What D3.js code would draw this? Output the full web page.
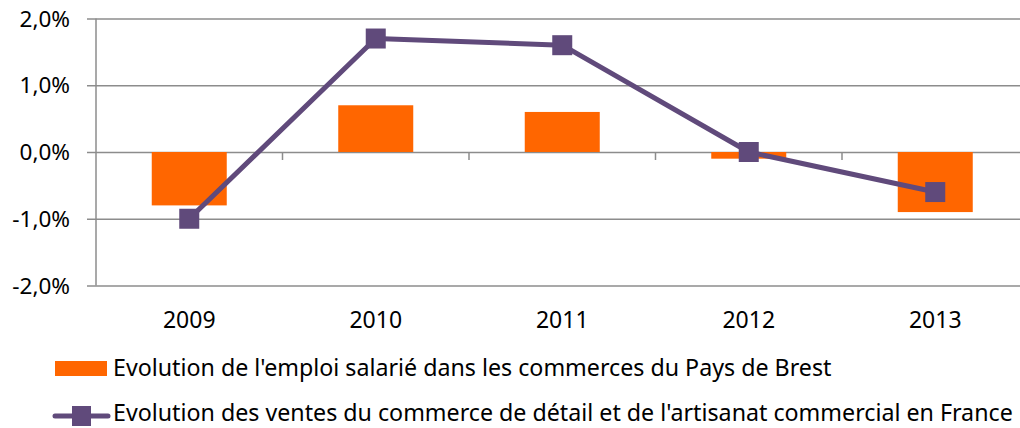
<!DOCTYPE html>
<meta charset="utf-8">
<script src="https://d3js.org/d3.v7.min.js"></script>
<style>
    body {
        margin: 0;
        background: #fff;
        font-family: "Noto Sans", "Open Sans", sans-serif;
    }
    .grid line {
        stroke: #8c8c8c;
        stroke-width: 1.5;
    }
    .grid path {
        stroke-width: 0;
    }
    text {
        fill: #000;
    }
</style>
<div id="viz_area"></div>
<script>
    var years = ["2009", "2010", "2011", "2012", "2013"]
    var emploiValues = [-0.8, 0.7, 0.6, -0.1, -0.9]
    var ventesValues = [-1.0, 1.7, 1.6, 0.0, -0.6]
    var yTicks = [-2, -1, 0, 1, 2]
    var seriesNames = [
        "Evolution de l'emploi salarié dans les commerces du Pays de Brest",
        "Evolution des ventes du commerce de détail et de l'artisanat commercial en France"
    ]

    var W = 1020, H = 428
    var orange = "#ff6600", purple = "#604a7b", gray = "#8c8c8c"

    var svg = d3.select("#viz_area").append("svg")
        .attr("width", W)
        .attr("height", H)

    var x = d3.scaleBand()
        .domain(years)
        .range([96, 1028.5])
        .padding(0)

    var y = d3.scaleLinear()
        .domain([-2, 2])
        .range([285.5, 18.5])

    // horizontal gridlines with left ticks
    svg.append("g")
        .attr("class", "grid")
        .attr("transform", "translate(96,0)")
        .call(d3.axisLeft(y).tickValues(yTicks).tickSize(-940).tickFormat(""))
    svg.append("g")
        .attr("class", "grid")
        .attr("transform", "translate(96,0)")
        .call(d3.axisLeft(y).tickValues(yTicks).tickSize(9).tickFormat(""))

    // y tick labels
    svg.selectAll(".ylab")
        .data(yTicks)
        .enter().append("text")
        .attr("class", "ylab")
        .attr("x", 70)
        .attr("y", function(d) { return y(d) })
        .attr("dy", "0.36em")
        .attr("text-anchor", "end")
        .attr("font-size", "22.5px")
        .text(function(d) { return d3.format(".1f")(d).replace("−", "-").replace(".", ",") + "%" })

    // vertical axis line
    svg.append("line")
        .attr("x1", 96).attr("x2", 96)
        .attr("y1", y(2)).attr("y2", y(-2))
        .attr("stroke", gray).attr("stroke-width", 1.5)

    // category ticks on the zero line
    svg.append("g")
        .selectAll("line")
        .data(years.slice(1))
        .enter().append("line")
        .attr("x1", function(d) { return x(d) })
        .attr("x2", function(d) { return x(d) })
        .attr("y1", y(0))
        .attr("y2", y(0) + 8)
        .attr("stroke", gray)
        .attr("stroke-width", 1.5)

    // bars
    var barW = 75
    svg.selectAll(".bar")
        .data(emploiValues)
        .enter().append("rect")
        .attr("class", "bar")
        .attr("x", function(d, i) { return x(years[i]) + x.bandwidth() / 2 - barW / 2 })
        .attr("y", function(d) { return y(Math.max(0, d)) })
        .attr("width", barW)
        .attr("height", function(d) { return Math.abs(y(d) - y(0)) })
        .attr("fill", orange)

    // line
    var line = d3.line()
        .x(function(d, i) { return x(years[i]) + x.bandwidth() / 2 })
        .y(function(d) { return y(d) })

    svg.append("path")
        .datum(ventesValues)
        .attr("d", line)
        .attr("fill", "none")
        .attr("stroke", purple)
        .attr("stroke-width", 5)
        .attr("stroke-linejoin", "round")

    var mk = 20
    svg.selectAll(".marker")
        .data(ventesValues)
        .enter().append("rect")
        .attr("class", "marker")
        .attr("x", function(d, i) { return x(years[i]) + x.bandwidth() / 2 - mk / 2 })
        .attr("y", function(d) { return y(d) - mk / 2 })
        .attr("width", mk)
        .attr("height", mk)
        .attr("fill", purple)

    // x labels
    svg.selectAll(".xlab")
        .data(years)
        .enter().append("text")
        .attr("class", "xlab")
        .attr("x", function(d) { return x(d) + x.bandwidth() / 2 })
        .attr("y", 328)
        .attr("text-anchor", "middle")
        .attr("font-size", "23px")
        .text(function(d) { return d })

    // legend
    var legend = svg.append("g")
    legend.append("rect")
        .attr("x", 55).attr("y", 361)
        .attr("width", 52).attr("height", 15)
        .attr("fill", orange)

    legend.append("line")
        .attr("x1", 55).attr("x2", 108)
        .attr("y1", 416).attr("y2", 416)
        .attr("stroke", purple).attr("stroke-width", 5)
        .attr("stroke-linecap", "round")
    legend.append("rect")
        .attr("x", 72).attr("y", 406)
        .attr("width", 19).attr("height", 20)
        .attr("fill", purple)

    var legTexts = legend.selectAll(".legtext")
        .data(seriesNames)
        .enter().append("text")
        .attr("class", "legtext")
        .attr("x", 113)
        .attr("y", function(d, i) { return 376 + i * 45 })
        .attr("font-size", "20px")
        .text(function(d) { return d })

    // fit the longest legend line to its width in the reference
    var longest = legTexts.nodes()[1]
    var fs = 20 * 900 / longest.getComputedTextLength()
    legTexts.attr("font-size", fs + "px")
</script>
